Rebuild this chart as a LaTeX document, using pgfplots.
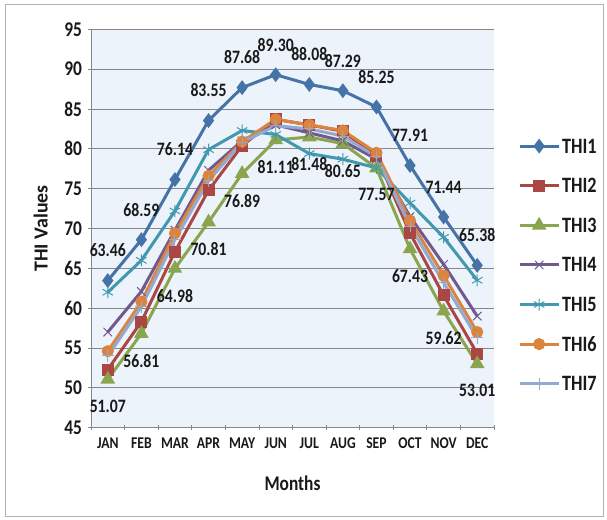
\documentclass[border=0pt]{standalone}
\usepackage{fontspec}
\setmainfont{Carlito}[FakeStretch=0.83]
\newfontfamily\plainfont{Carlito}
\usepackage{pgfplots}
\pgfplotsset{compat=1.18}
\definecolor{c1}{RGB}{69,114,167}
\definecolor{c2}{RGB}{170,70,67}
\definecolor{c3}{RGB}{137,165,78}
\definecolor{c4}{RGB}{113,88,143}
\definecolor{c5}{RGB}{65,152,175}
\definecolor{c6}{RGB}{219,132,61}
\definecolor{c7}{RGB}{147,169,207}
\definecolor{bgblue}{RGB}{237,243,251}
\definecolor{gridgray}{RGB}{134,134,134}
\begin{document}
\begin{tikzpicture}
\useasboundingbox (0,0) rectangle (607bp,520bp);
\draw[gray!60, line width=1bp, fill=white] (5bp,3bp) rectangle (603bp,515bp);
\begin{axis}[
  at={(91bp,92.3bp)}, anchor=south west,
  scale only axis, width=403bp, height=398.4bp,
  xmin=-0.5, xmax=11.5, ymin=45, ymax=95,
  xtick={0,...,11},
  xticklabels={JAN,FEB,MAR,APR,MAY,JUN,JUL,AUG,SEP,OCT,NOV,DEC},
  major x tick style={draw=none},
  minor xtick={-0.5,0.5,...,11.5},
  minor tick length=5bp,
  major tick length=5bp,
  ytick={45,50,...,95},
  tick align=outside,
  tick style={gridgray, line width=0.8bp},
  axis x line=bottom, axis y line=left,
  axis line style={-, gridgray, line width=0.8bp},
  axis background/.style={fill=bgblue},
  ymajorgrids,
  grid style={gridgray, line width=0.9bp},
  /pgf/number format/assume math mode=true,
  yticklabel style={font=\fontsize{21}{24}\selectfont\bfseries, text=black!90, xshift=-3bp},
  xticklabel style={font=\fontsize{16.5}{20}\selectfont\bfseries, text=black!90, yshift=-4bp},
  xlabel={Months},
  ylabel={\plainfont THI Values},
  xlabel style={font=\fontsize{21}{25}\selectfont\bfseries, text=black!90, at={(axis description cs:0.5,-0.139)}, anchor=center},
  ylabel style={font=\fontsize{20}{24}\selectfont\bfseries, text=black!90, at={(axis description cs:-0.1248,0.5)}, anchor=center},
  clip=false,
  every axis plot/.append style={line width=3bp},
  legend style={draw=none, fill=none, at={(axis description cs:1.052,0.4086)}, anchor=west,
    font=\fontsize{22}{24}\selectfont\bfseries, text=black!90, row sep=21.6bp,
    nodes={text height=14bp, text depth=0bp, inner sep=2bp}},
  legend cell align=left,
  legend image code/.code={\draw[mark repeat=2,mark phase=2,#1] plot coordinates {(0bp,0bp) (19.5bp,0bp) (39bp,0bp)};},
]
\addplot[c1, mark=diamond*, mark size=5bp, mark options={solid},
  nodes near coords={\pgfmathprintnumber[fixed,fixed zerofill,precision=2]{\pgfplotspointmeta}},
  every node near coord/.append style={font=\fontsize{19}{22}\selectfont\bfseries, text=black!90, anchor=south, inner sep=0pt, yshift=22bp}]
  coordinates {(0,63.46) (1,68.59) (2,76.14) (3,83.55) (4,87.68) (5,89.30) (6,88.08) (7,87.29) (8,85.25) (9,77.91) (10,71.44) (11,65.38)};
\addlegendentry{THI1}
\addplot[c2, mark=square*, mark size=4.5bp, mark options={solid}]
  coordinates {(0,52.3) (1,58.3) (2,67.1) (3,74.8) (4,80.4) (5,83.7) (6,83.0) (7,82.2) (8,79.1) (9,69.4) (10,61.6) (11,54.3)};
\addlegendentry{THI2}
\addplot[c3, mark=triangle*, mark size=5.5bp, mark options={solid},
  nodes near coords={\pgfmathprintnumber[fixed,fixed zerofill,precision=2]{\pgfplotspointmeta}},
  every node near coord/.append style={font=\fontsize{19}{22}\selectfont\bfseries, text=black!90, anchor=north, inner sep=0pt, yshift=-19bp}]
  coordinates {(0,51.07) (1,56.81) (2,64.98) (3,70.81) (4,76.89) (5,81.11) (6,81.48) (7,80.65) (8,77.57) (9,67.43) (10,59.62) (11,53.01)};
\addlegendentry{THI3}
\addplot[c4, mark=x, mark size=6bp, mark options={solid, line width=1bp}]
  coordinates {(0,57.0) (1,62.1) (2,69.8) (3,77.3) (4,81.0) (5,83.0) (6,82.0) (7,81.0) (8,78.7) (9,71.5) (10,65.5) (11,59.0)};
\addlegendentry{THI4}
\addplot[c5, mark=asterisk, mark size=6bp, mark options={solid, line width=1bp}]
  coordinates {(0,62.0) (1,66.0) (2,72.2) (3,79.9) (4,82.3) (5,81.8) (6,79.4) (7,78.7) (8,77.6) (9,73.2) (10,68.9) (11,63.5)};
\addlegendentry{THI5}
\addplot[c6, mark=*, mark size=4.5bp, mark options={solid}]
  coordinates {(0,54.6) (1,60.8) (2,69.4) (3,76.6) (4,80.9) (5,83.7) (6,83.0) (7,82.3) (8,79.5) (9,71.0) (10,64.1) (11,57.0)};
\addlegendentry{THI6}
\addplot[c7, mark=+, mark size=6bp, mark options={solid, line width=1bp}]
  coordinates {(0,54.0) (1,60.2) (2,68.6) (3,76.0) (4,80.8) (5,82.9) (6,82.5) (7,81.6) (8,79.0) (9,70.3) (10,63.2) (11,56.3)};
\addlegendentry{THI7}
\end{axis}
\end{tikzpicture}
\end{document}
